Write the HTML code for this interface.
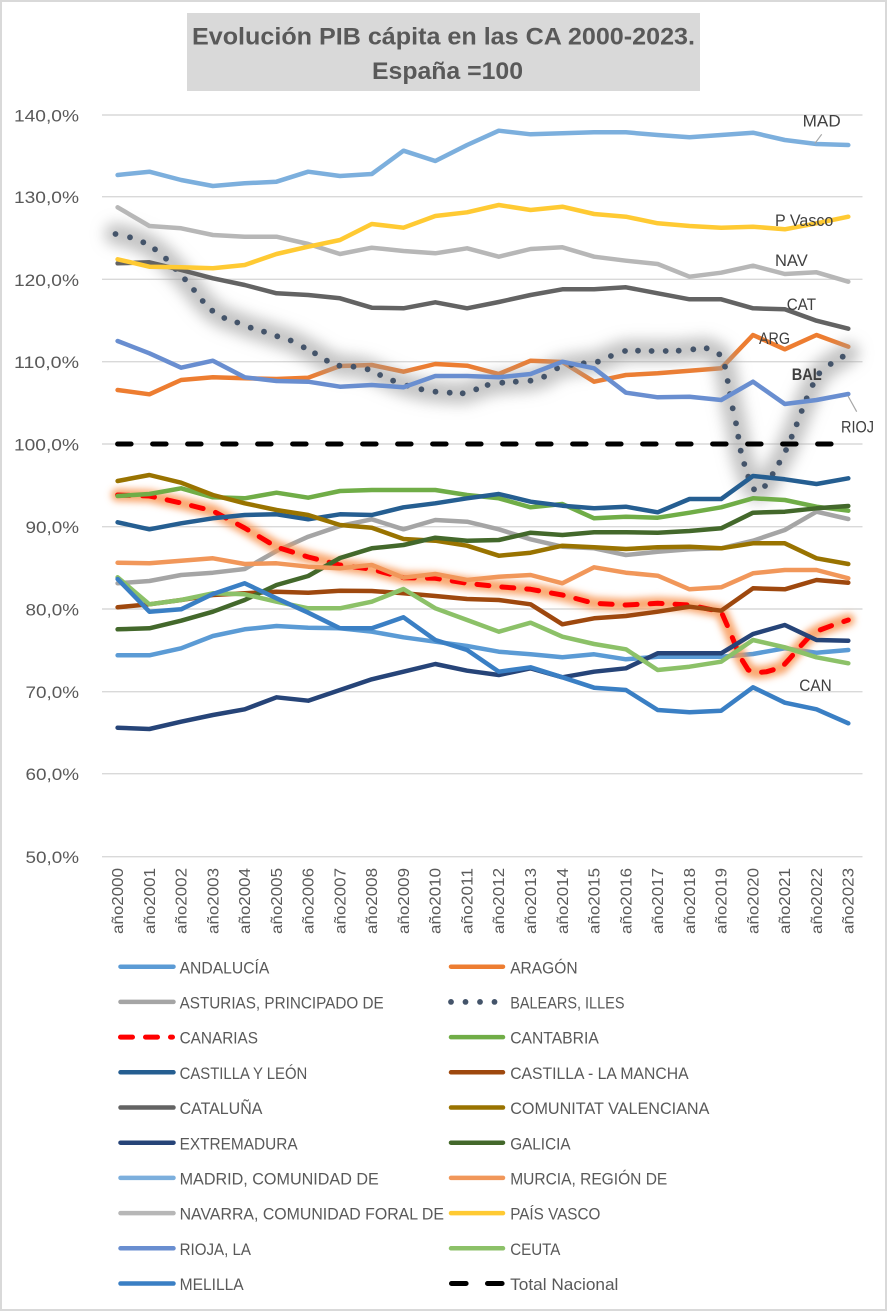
<!DOCTYPE html>
<html>
<head>
<meta charset="utf-8">
<style>
html,body{margin:0;padding:0;background:#fff;}
svg{display:block;}
text{font-family:"Liberation Sans",sans-serif;}
</style>
</head>
<body>
<svg width="887" height="1311" viewBox="0 0 887 1311" xmlns="http://www.w3.org/2000/svg">
<defs>
<filter id="g6" filterUnits="userSpaceOnUse" x="0" y="0" width="887" height="1311"><feGaussianBlur stdDeviation="7"/></filter>
<filter id="g4" filterUnits="userSpaceOnUse" x="0" y="0" width="887" height="1311"><feGaussianBlur stdDeviation="3.5"/></filter>
</defs>
<rect x="0" y="0" width="887" height="1311" fill="#ffffff"/>
<rect x="1" y="1" width="885" height="1309" fill="none" stroke="#d9d9d9" stroke-width="2"/>

<!-- Title -->
<rect x="187" y="13" width="513" height="78" fill="#d9d9d9"/>
<text x="192" y="44.3" font-size="24" font-weight="bold" fill="#595959" textLength="503" lengthAdjust="spacingAndGlyphs">Evolución PIB cápita en las CA 2000-2023.</text>
<text x="372" y="79" font-size="24" font-weight="bold" fill="#595959" textLength="151" lengthAdjust="spacingAndGlyphs">España =100</text>

<!-- Gridlines -->
<g stroke="#d9d9d9" stroke-width="1.4">
<line x1="102" y1="115" x2="862.5" y2="115"/>
<line x1="102" y1="196.7" x2="862.5" y2="196.7"/>
<line x1="102" y1="279.3" x2="862.5" y2="279.3"/>
<line x1="102" y1="361.7" x2="862.5" y2="361.7"/>
<line x1="102" y1="444" x2="862.5" y2="444"/>
<line x1="102" y1="526.7" x2="862.5" y2="526.7"/>
<line x1="102" y1="609" x2="862.5" y2="609"/>
<line x1="102" y1="691.7" x2="862.5" y2="691.7"/>
<line x1="102" y1="773.7" x2="862.5" y2="773.7"/>
<line x1="102" y1="856.7" x2="862.5" y2="856.7"/>
</g>

<!-- Y labels -->
<g font-size="17" fill="#595959">
<text x="14" y="121.5" textLength="65" lengthAdjust="spacingAndGlyphs">140,0%</text>
<text x="14" y="203.2" textLength="65" lengthAdjust="spacingAndGlyphs">130,0%</text>
<text x="14" y="285.8" textLength="65" lengthAdjust="spacingAndGlyphs">120,0%</text>
<text x="14" y="368.2" textLength="65" lengthAdjust="spacingAndGlyphs">110,0%</text>
<text x="14" y="450.5" textLength="65" lengthAdjust="spacingAndGlyphs">100,0%</text>
<text x="25.5" y="533.2" textLength="53.5" lengthAdjust="spacingAndGlyphs">90,0%</text>
<text x="25.5" y="615.5" textLength="53.5" lengthAdjust="spacingAndGlyphs">80,0%</text>
<text x="25.5" y="698.2" textLength="53.5" lengthAdjust="spacingAndGlyphs">70,0%</text>
<text x="25.5" y="780.2" textLength="53.5" lengthAdjust="spacingAndGlyphs">60,0%</text>
<text x="25.5" y="863.2" textLength="53.5" lengthAdjust="spacingAndGlyphs">50,0%</text>
</g>

<!-- X labels -->
<g font-size="16" fill="#595959">
<text transform="translate(123,934) rotate(-90)" textLength="66" lengthAdjust="spacingAndGlyphs">año2000</text>
<text transform="translate(154.8,934) rotate(-90)" textLength="66" lengthAdjust="spacingAndGlyphs">año2001</text>
<text transform="translate(186.5,934) rotate(-90)" textLength="66" lengthAdjust="spacingAndGlyphs">año2002</text>
<text transform="translate(218.3,934) rotate(-90)" textLength="66" lengthAdjust="spacingAndGlyphs">año2003</text>
<text transform="translate(250.1,934) rotate(-90)" textLength="66" lengthAdjust="spacingAndGlyphs">año2004</text>
<text transform="translate(281.9,934) rotate(-90)" textLength="66" lengthAdjust="spacingAndGlyphs">año2005</text>
<text transform="translate(313.6,934) rotate(-90)" textLength="66" lengthAdjust="spacingAndGlyphs">año2006</text>
<text transform="translate(345.4,934) rotate(-90)" textLength="66" lengthAdjust="spacingAndGlyphs">año2007</text>
<text transform="translate(377.2,934) rotate(-90)" textLength="66" lengthAdjust="spacingAndGlyphs">año2008</text>
<text transform="translate(408.9,934) rotate(-90)" textLength="66" lengthAdjust="spacingAndGlyphs">año2009</text>
<text transform="translate(440.7,934) rotate(-90)" textLength="66" lengthAdjust="spacingAndGlyphs">año2010</text>
<text transform="translate(472.5,934) rotate(-90)" textLength="66" lengthAdjust="spacingAndGlyphs">año2011</text>
<text transform="translate(504.2,934) rotate(-90)" textLength="66" lengthAdjust="spacingAndGlyphs">año2012</text>
<text transform="translate(536,934) rotate(-90)" textLength="66" lengthAdjust="spacingAndGlyphs">año2013</text>
<text transform="translate(567.8,934) rotate(-90)" textLength="66" lengthAdjust="spacingAndGlyphs">año2014</text>
<text transform="translate(599.5,934) rotate(-90)" textLength="66" lengthAdjust="spacingAndGlyphs">año2015</text>
<text transform="translate(631.3,934) rotate(-90)" textLength="66" lengthAdjust="spacingAndGlyphs">año2016</text>
<text transform="translate(663.1,934) rotate(-90)" textLength="66" lengthAdjust="spacingAndGlyphs">año2017</text>
<text transform="translate(694.9,934) rotate(-90)" textLength="66" lengthAdjust="spacingAndGlyphs">año2018</text>
<text transform="translate(726.6,934) rotate(-90)" textLength="66" lengthAdjust="spacingAndGlyphs">año2019</text>
<text transform="translate(758.4,934) rotate(-90)" textLength="66" lengthAdjust="spacingAndGlyphs">año2020</text>
<text transform="translate(790.2,934) rotate(-90)" textLength="66" lengthAdjust="spacingAndGlyphs">año2021</text>
<text transform="translate(821.9,934) rotate(-90)" textLength="66" lengthAdjust="spacingAndGlyphs">año2022</text>
<text transform="translate(853.7,934) rotate(-90)" textLength="66" lengthAdjust="spacingAndGlyphs">año2023</text>
</g>

<!-- Series -->
<g fill="none" stroke-width="4.5" stroke-linejoin="round" stroke-linecap="round">
<polyline stroke="#5b9bd5" points="117.6,655.3 149.4,655.3 181.1,648.3 212.9,636 244.7,629.3 276.5,626 308.2,627.7 340,628.3 371.8,631.7 403.5,637.3 435.3,641.7 467.1,646 498.8,651.7 530.6,654.3 562.4,657.3 594.1,654.3 625.9,659.3 657.7,656.7 689.5,656.7 721.2,656.7 753,654 784.8,648.3 816.5,652.7 848.3,650"/>
<polyline stroke="#ed7d31" points="117.6,390 149.4,394.3 181.1,380 212.9,377.3 244.7,378.3 276.5,379 308.2,377.7 340,366 371.8,365 403.5,371.7 435.3,364 467.1,365.7 498.8,374 530.6,360.7 562.4,362 594.1,381.7 625.9,375 657.7,373.3 689.5,370.7 721.2,368.3 753,335 784.8,349.3 816.5,335 848.3,346.7"/>
<polyline stroke="#a5a5a5" points="117.6,583.3 149.4,581 181.1,575 212.9,572.7 244.7,569 276.5,551 308.2,536.7 340,526 371.8,519.3 403.5,529.3 435.3,520 467.1,521.7 498.8,529.3 530.6,539.3 562.4,546.7 594.1,548.3 625.9,555 657.7,551.7 689.5,549.3 721.2,548.3 753,540.7 784.8,530 816.5,511.7 848.3,519"/>
</g>

<!-- BALEARS glow -->
<polyline fill="none" stroke="#9c9c9c" stroke-opacity="0.6" stroke-width="22" stroke-linejoin="round" stroke-linecap="round" filter="url(#g6)" points="115.5,234 130,237.3 143.3,242.3 155,249.3 166,258.7 175.5,269 185,279.3 194,290 202.7,301 212.3,310.7 224.3,318 237.3,322.5 250.7,327.7 264,331.7 277.3,336.3 290.7,340.5 303.7,347.3 315,353.3 326.9,360.7 339.4,365.7 353.5,366.7 367.6,369.3 380.1,375 393.1,380.7 407.2,385.7 421.4,389.3 435.5,391.7 449.7,392.7 462.7,393.3 476.2,389.3 487.6,385 502.3,382.7 515.8,381.7 530.5,380.7 544.1,376.7 557.1,368.3 571.3,365 583.7,363.3 597.9,361.7 610.9,356 625,351 638,350.7 651.6,351 665.7,351 678.7,350.7 693.3,349.3 706.7,348.3 719.3,354.3 725,366.7 727.7,381 730,394 732.7,408.3 736,423.3 738.3,436.7 740.7,450.7 744.3,464 748.3,476.7 754,489.3 759.5,490.5 765,486 772.7,474 779.3,462.7 786,450 791.7,436.7 796.7,424.3 801.7,411 806.7,398.3 812.7,385 819.3,373.3 830.7,364 842.7,356.7 848.3,353"/>
<g fill="#44546a">
<circle cx="115.5" cy="234" r="2.9"/><circle cx="130" cy="237.3" r="2.9"/><circle cx="143.3" cy="242.3" r="2.9"/><circle cx="155" cy="249.3" r="2.9"/><circle cx="166" cy="258.7" r="2.9"/><circle cx="175.5" cy="269" r="2.9"/><circle cx="185" cy="279.3" r="2.9"/><circle cx="194" cy="290" r="2.9"/><circle cx="202.7" cy="301" r="2.9"/><circle cx="212.3" cy="310.7" r="2.9"/><circle cx="224.3" cy="318" r="2.9"/><circle cx="237.3" cy="322.5" r="2.9"/><circle cx="250.7" cy="327.7" r="2.9"/><circle cx="264" cy="331.7" r="2.9"/><circle cx="277.3" cy="336.3" r="2.9"/><circle cx="290.7" cy="340.5" r="2.9"/><circle cx="303.7" cy="347.3" r="2.9"/><circle cx="315" cy="353.3" r="2.9"/><circle cx="326.9" cy="360.7" r="2.9"/><circle cx="339.4" cy="365.7" r="2.9"/><circle cx="353.5" cy="366.7" r="2.9"/><circle cx="367.6" cy="369.3" r="2.9"/><circle cx="380.1" cy="375" r="2.9"/><circle cx="393.1" cy="380.7" r="2.9"/><circle cx="407.2" cy="385.7" r="2.9"/><circle cx="421.4" cy="389.3" r="2.9"/><circle cx="435.5" cy="391.7" r="2.9"/><circle cx="449.7" cy="392.7" r="2.9"/><circle cx="462.7" cy="393.3" r="2.9"/><circle cx="476.2" cy="389.3" r="2.9"/><circle cx="487.6" cy="385" r="2.9"/><circle cx="502.3" cy="382.7" r="2.9"/><circle cx="515.8" cy="381.7" r="2.9"/><circle cx="530.5" cy="380.7" r="2.9"/><circle cx="544.1" cy="376.7" r="2.9"/><circle cx="557.1" cy="368.3" r="2.9"/><circle cx="571.3" cy="365" r="2.9"/><circle cx="583.7" cy="363.3" r="2.9"/><circle cx="597.9" cy="361.7" r="2.9"/><circle cx="610.9" cy="356" r="2.9"/><circle cx="625" cy="351" r="2.9"/><circle cx="638" cy="350.7" r="2.9"/><circle cx="651.6" cy="351" r="2.9"/><circle cx="665.7" cy="351" r="2.9"/><circle cx="678.7" cy="350.7" r="2.9"/><circle cx="693.3" cy="349.3" r="2.9"/><circle cx="706.7" cy="348.3" r="2.9"/><circle cx="719.3" cy="354.3" r="2.9"/><circle cx="725" cy="366.7" r="2.9"/><circle cx="727.7" cy="381" r="2.9"/><circle cx="730" cy="394" r="2.9"/><circle cx="732.7" cy="408.3" r="2.9"/><circle cx="736" cy="423.3" r="2.9"/><circle cx="738.3" cy="436.7" r="2.9"/><circle cx="740.7" cy="450.7" r="2.9"/><circle cx="744.3" cy="464" r="2.9"/><circle cx="748.3" cy="476.7" r="2.9"/><circle cx="754" cy="489.3" r="2.9"/><circle cx="765" cy="486" r="2.9"/><circle cx="772.7" cy="474" r="2.9"/><circle cx="779.3" cy="462.7" r="2.9"/><circle cx="786" cy="450" r="2.9"/><circle cx="791.7" cy="436.7" r="2.9"/><circle cx="796.7" cy="424.3" r="2.9"/><circle cx="801.7" cy="411" r="2.9"/><circle cx="806.7" cy="398.3" r="2.9"/><circle cx="812.7" cy="385" r="2.9"/><circle cx="819.3" cy="373.3" r="2.9"/><circle cx="830.7" cy="364" r="2.9"/><circle cx="842.7" cy="356.7" r="2.9"/>
</g>

<!-- CANARIAS glow + line -->
<polyline fill="none" stroke="#f7934f" stroke-opacity="0.8" stroke-width="13" stroke-linejoin="round" stroke-linecap="round" filter="url(#g4)" points="117.6,495 149.4,496 181.1,503 212.9,511 244.7,528 276.5,547 308.2,557 340,565 371.8,569.3 403.5,577.7 435.3,578.3 467.1,583.3 498.8,586.7 530.6,589.3 562.4,595 594.1,603.3 625.9,605 657.7,603.3 689.5,605 721.2,611.7 730,631.7 740,656.7 748.3,670 756.7,672.7 766.7,671.7 781.7,667.3 790,658.3 800,646.7 810,636 820,630 833.3,625 848.3,620"/>
<polyline fill="none" stroke="#ff0000" stroke-width="5" stroke-dasharray="12 13" stroke-linejoin="round" stroke-linecap="round" points="117.6,495 149.4,496 181.1,503 212.9,511 244.7,528 276.5,547 308.2,557 340,565 371.8,569.3 403.5,577.7 435.3,578.3 467.1,583.3 498.8,586.7 530.6,589.3 562.4,595 594.1,603.3 625.9,605 657.7,603.3 689.5,605 721.2,611.7 730,631.7 740,656.7 748.3,670 756.7,672.7 766.7,671.7 781.7,667.3 790,658.3 800,646.7 810,636 820,630 833.3,625 848.3,620"/>

<g fill="none" stroke-width="4.5" stroke-linejoin="round" stroke-linecap="round">
<polyline stroke="#70ad47" points="117.6,496 149.4,494 181.1,488.3 212.9,497.3 244.7,498.3 276.5,492.7 308.2,497.7 340,491 371.8,490 403.5,490 435.3,490 467.1,495 498.8,498.3 530.6,507.3 562.4,504 594.1,518.3 625.9,516.7 657.7,517.7 689.5,512.7 721.2,507.3 753,498.3 784.8,500 816.5,506.7 848.3,510.7"/>
<polyline stroke="#255e91" points="117.6,522.3 149.4,529.3 181.1,523.3 212.9,518.3 244.7,515 276.5,514.3 308.2,519.3 340,514.3 371.8,515 403.5,507.3 435.3,503.3 467.1,498.3 498.8,494 530.6,501.7 562.4,505.7 594.1,508.3 625.9,506.7 657.7,512.3 689.5,499 721.2,499 753,476 784.8,479.3 816.5,484 848.3,478.3"/>
<polyline stroke="#9e480e" points="117.6,607.3 149.4,604.3 181.1,600 212.9,595 244.7,593.3 276.5,591.7 308.2,592.7 340,590.7 371.8,591 403.5,593.3 435.3,596 467.1,599 498.8,600 530.6,604.3 562.4,624.3 594.1,618.3 625.9,616 657.7,611.7 689.5,606.7 721.2,610.7 753,588.3 784.8,589.3 816.5,580 848.3,582.7"/>
<polyline stroke="#636363" points="117.6,263.3 149.4,262.3 181.1,270 212.9,278.3 244.7,285 276.5,293.3 308.2,295 340,298.3 371.8,307.7 403.5,308.3 435.3,302.3 467.1,308.3 498.8,302 530.6,295 562.4,289.3 594.1,289.3 625.9,287.3 657.7,293.3 689.5,299.3 721.2,299.3 753,308.3 784.8,309.3 816.5,320.7 848.3,328.7"/>
<polyline stroke="#997300" points="117.6,481 149.4,475 181.1,482.7 212.9,495 244.7,503.3 276.5,510 308.2,515 340,525 371.8,527.7 403.5,539 435.3,540.7 467.1,545.7 498.8,555.7 530.6,552.7 562.4,545.7 594.1,547.3 625.9,549 657.7,547.3 689.5,546.7 721.2,548.3 753,543.3 784.8,543.3 816.5,558.3 848.3,564"/>
<polyline stroke="#264478" points="117.6,727.7 149.4,729 181.1,721.7 212.9,715 244.7,709.3 276.5,697.3 308.2,700.7 340,690 371.8,679.3 403.5,671.7 435.3,664 467.1,670.7 498.8,675 530.6,668.3 562.4,677.3 594.1,671.7 625.9,668.3 657.7,653.3 689.5,653.3 721.2,653.3 753,634 784.8,625 816.5,640 848.3,640.7"/>
<polyline stroke="#43682b" points="117.6,629.3 149.4,628.3 181.1,620.7 212.9,611.7 244.7,600 276.5,585 308.2,576 340,558 371.8,548.3 403.5,545 435.3,537.7 467.1,540.7 498.8,540 530.6,532.7 562.4,535 594.1,532.3 625.9,532.3 657.7,532.7 689.5,531 721.2,528.3 753,512.7 784.8,511.7 816.5,508.3 848.3,506"/>
<polyline stroke="#7cafdd" points="117.6,175 149.4,171.7 181.1,180 212.9,186 244.7,183.3 276.5,181.7 308.2,171.7 340,176 371.8,174 403.5,150.7 435.3,161 467.1,145 498.8,130.7 530.6,134.3 562.4,133.3 594.1,132.3 625.9,132.3 657.7,135 689.5,137.3 721.2,135 753,132.7 784.8,140 816.5,144 848.3,145"/>
<polyline stroke="#f1975a" points="117.6,562.7 149.4,563.3 181.1,560.7 212.9,558.3 244.7,564 276.5,563.3 308.2,566.7 340,568.3 371.8,565 403.5,577.7 435.3,574 467.1,580 498.8,576.7 530.6,575 562.4,583.3 594.1,567.3 625.9,572.7 657.7,575.7 689.5,589.3 721.2,587.3 753,573.3 784.8,570 816.5,570 848.3,578.3"/>
<polyline stroke="#b7b7b7" points="117.6,207.3 149.4,226 181.1,228.3 212.9,235 244.7,236.7 276.5,236.7 308.2,244 340,254 371.8,247.7 403.5,251 435.3,253.3 467.1,248.3 498.8,256.7 530.6,249 562.4,247.3 594.1,256.7 625.9,260.7 657.7,264 689.5,276.7 721.2,272.7 753,265.7 784.8,274 816.5,272.3 848.3,281.7"/>
<polyline stroke="#ffca33" points="117.6,259.3 149.4,266.7 181.1,267.3 212.9,268.3 244.7,265 276.5,254 308.2,246.7 340,240 371.8,224 403.5,227.7 435.3,216 467.1,212.3 498.8,205 530.6,210 562.4,206.7 594.1,214 625.9,216.7 657.7,223.3 689.5,226 721.2,227.7 753,226.7 784.8,229.3 816.5,223.3 848.3,216.7"/>
<polyline stroke="#698ed0" points="117.6,341 149.4,353.3 181.1,367.7 212.9,360.7 244.7,377.3 276.5,381 308.2,381.7 340,386.7 371.8,385 403.5,387.3 435.3,376 467.1,376 498.8,377.3 530.6,374 562.4,361.7 594.1,368.3 625.9,392.7 657.7,397.3 689.5,396.7 721.2,400 753,381.7 784.8,404 816.5,400 848.3,394"/>
<polyline stroke="#8cc168" points="117.6,577.3 149.4,604.3 181.1,600 212.9,593.3 244.7,594.3 276.5,601.7 308.2,608.3 340,608.3 371.8,601.7 403.5,589 435.3,608.3 467.1,620 498.8,631.7 530.6,622.7 562.4,636.7 594.1,644 625.9,649.3 657.7,670 689.5,666.7 721.2,661.7 753,640 784.8,647.3 816.5,657.3 848.3,663.3"/>
<polyline stroke="#3a7fc4" points="117.6,579 149.4,611.7 181.1,609.3 212.9,594 244.7,583.3 276.5,598.3 308.2,612.7 340,628.3 371.8,628.3 403.5,617.3 435.3,640 467.1,650 498.8,671.7 530.6,667.3 562.4,677.3 594.1,687.7 625.9,690 657.7,710 689.5,712.3 721.2,710.7 753,687.3 784.8,702.7 816.5,709.3 848.3,723.3"/>
</g>

<!-- Total Nacional -->
<line x1="117.6" y1="444" x2="848.3" y2="444" stroke="#000" stroke-width="5" stroke-dasharray="13.5 21.5" stroke-linecap="round"/>

<!-- Data labels -->
<g stroke="#a6a6a6" stroke-width="1.2">
<line x1="821.7" y1="134.3" x2="815" y2="143.3"/>
<line x1="848" y1="396" x2="856.7" y2="411.7"/>
</g>
<g font-size="17" fill="#404040">
<text x="802.7" y="126.5" textLength="38" lengthAdjust="spacingAndGlyphs">MAD</text>
<text x="775" y="226" textLength="58.3" lengthAdjust="spacingAndGlyphs">P Vasco</text>
<text x="775" y="266" textLength="32.7" lengthAdjust="spacingAndGlyphs">NAV</text>
<text x="786.7" y="310" textLength="29.3" lengthAdjust="spacingAndGlyphs">CAT</text>
<text x="759" y="344" textLength="31" lengthAdjust="spacingAndGlyphs">ARG</text>
<text x="791.7" y="380" font-weight="bold" textLength="30" lengthAdjust="spacingAndGlyphs">BAL</text>
<text x="841" y="432.7" textLength="33" lengthAdjust="spacingAndGlyphs">RIOJ</text>
<text x="799.3" y="691" textLength="32.4" lengthAdjust="spacingAndGlyphs">CAN</text>
</g>

<!-- Legend lines -->
<g fill="none" stroke-width="4.5" stroke-linecap="round">
<line x1="120.5" y1="966.7" x2="173.5" y2="966.7" stroke="#5b9bd5"/>
<line x1="451" y1="966.7" x2="503" y2="966.7" stroke="#ed7d31"/>
<line x1="120.5" y1="1001.9" x2="173.5" y2="1001.9" stroke="#a5a5a5"/>
<line x1="120.5" y1="1037.1" x2="172.5" y2="1037.1" stroke="#ff0000" stroke-width="5" stroke-dasharray="12 13"/>
<line x1="451" y1="1037.1" x2="503" y2="1037.1" stroke="#70ad47"/>
<line x1="120.5" y1="1072.3" x2="173.5" y2="1072.3" stroke="#255e91"/>
<line x1="451" y1="1072.3" x2="503" y2="1072.3" stroke="#9e480e"/>
<line x1="120.5" y1="1107.5" x2="173.5" y2="1107.5" stroke="#636363"/>
<line x1="451" y1="1107.5" x2="503" y2="1107.5" stroke="#997300"/>
<line x1="120.5" y1="1142.7" x2="173.5" y2="1142.7" stroke="#264478"/>
<line x1="451" y1="1142.7" x2="503" y2="1142.7" stroke="#43682b"/>
<line x1="120.5" y1="1177.9" x2="173.5" y2="1177.9" stroke="#7cafdd"/>
<line x1="451" y1="1177.9" x2="503" y2="1177.9" stroke="#f1975a"/>
<line x1="120.5" y1="1213.1" x2="173.5" y2="1213.1" stroke="#b7b7b7"/>
<line x1="451" y1="1213.1" x2="503" y2="1213.1" stroke="#ffca33"/>
<line x1="120.5" y1="1248.3" x2="173.5" y2="1248.3" stroke="#698ed0"/>
<line x1="451" y1="1248.3" x2="503" y2="1248.3" stroke="#8cc168"/>
<line x1="120.5" y1="1283.5" x2="173.5" y2="1283.5" stroke="#3a7fc4"/>
<line x1="451.5" y1="1283.5" x2="502.1" y2="1283.5" stroke="#000" stroke-width="5" stroke-dasharray="14.6 21.4"/>
</g>
<g fill="#44546a">
<circle cx="451" cy="1001.9" r="2.9"/><circle cx="465.5" cy="1001.9" r="2.9"/><circle cx="480" cy="1001.9" r="2.9"/><circle cx="494.5" cy="1001.9" r="2.9"/>
</g>

<!-- Legend text -->
<g font-size="17" fill="#595959">
<text x="179.6" y="973.3" textLength="89.8" lengthAdjust="spacingAndGlyphs">ANDALUCÍA</text>
<text x="510.2" y="973.3" textLength="67.4" lengthAdjust="spacingAndGlyphs">ARAGÓN</text>
<text x="179.6" y="1008.5" textLength="204.1" lengthAdjust="spacingAndGlyphs">ASTURIAS, PRINCIPADO DE</text>
<text x="510.2" y="1008.5" textLength="114.3" lengthAdjust="spacingAndGlyphs">BALEARS, ILLES</text>
<text x="179.6" y="1043.7" textLength="78.4" lengthAdjust="spacingAndGlyphs">CANARIAS</text>
<text x="510.2" y="1043.7" textLength="88.6" lengthAdjust="spacingAndGlyphs">CANTABRIA</text>
<text x="179.6" y="1078.9" textLength="127.7" lengthAdjust="spacingAndGlyphs">CASTILLA Y LEÓN</text>
<text x="510.2" y="1078.9" textLength="178.4" lengthAdjust="spacingAndGlyphs">CASTILLA - LA MANCHA</text>
<text x="179.6" y="1114.1" textLength="82.8" lengthAdjust="spacingAndGlyphs">CATALUÑA</text>
<text x="510.2" y="1114.1" textLength="199.2" lengthAdjust="spacingAndGlyphs">COMUNITAT VALENCIANA</text>
<text x="179.6" y="1149.3" textLength="118" lengthAdjust="spacingAndGlyphs">EXTREMADURA</text>
<text x="510.2" y="1149.3" textLength="60.4" lengthAdjust="spacingAndGlyphs">GALICIA</text>
<text x="179.6" y="1184.5" textLength="199.2" lengthAdjust="spacingAndGlyphs">MADRID, COMUNIDAD DE</text>
<text x="510.2" y="1184.5" textLength="157.1" lengthAdjust="spacingAndGlyphs">MURCIA, REGIÓN DE</text>
<text x="179.6" y="1219.7" textLength="264.4" lengthAdjust="spacingAndGlyphs">NAVARRA, COMUNIDAD FORAL DE</text>
<text x="510.2" y="1219.7" textLength="90.2" lengthAdjust="spacingAndGlyphs">PAÍS VASCO</text>
<text x="179.6" y="1254.9" textLength="71.4" lengthAdjust="spacingAndGlyphs">RIOJA, LA</text>
<text x="510.2" y="1254.9" textLength="50.2" lengthAdjust="spacingAndGlyphs">CEUTA</text>
<text x="179.6" y="1290.1" textLength="64.1" lengthAdjust="spacingAndGlyphs">MELILLA</text>
<text x="510.2" y="1290.1" textLength="108.2" lengthAdjust="spacingAndGlyphs">Total Nacional</text>
</g>
</svg>
</body>
</html>
